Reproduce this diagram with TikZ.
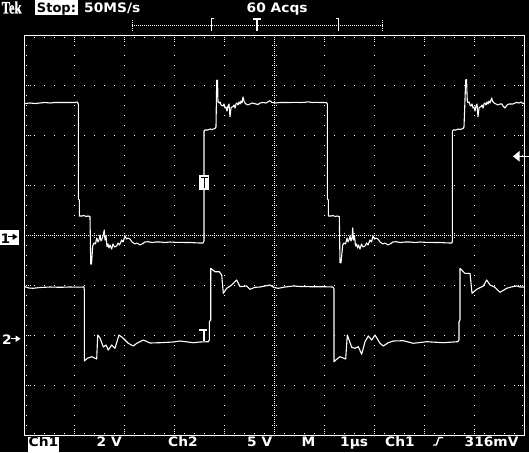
\documentclass[tikz,border=0pt]{standalone}
\usepackage{fontspec}
\newfontfamily\tekf[FakeStretch=1.06]{DejaVu Sans Bold}
\newfontfamily\tekbold{DejaVu Sans Bold}
\newfontfamily\tekserif[FakeStretch=0.72,FakeBold=1.2]{Liberation Serif}
\tikzset{
  trace/.style={white, line width=1.1pt, line join=round},
  scr/.style={white, line width=1.2pt},
  lbl/.style={white, inner sep=0pt, anchor=base west, font=\tekf\fontsize{13}{13}\selectfont},
  lblk/.style={black, inner sep=0pt, anchor=base, font=\tekf\fontsize{13}{13}\selectfont},
  tkmark/.style={white, line width=1.3pt}
}
\newcommand\pxd[2]{\fill[white] ({#1-0.5},{#2-0.5}) rectangle ++(1,1);}
\newcommand\pxs[2]{\fill[white] ({#1-0.42},{#2-0.42}) rectangle ++(0.84,0.84);}
\begin{document}
\begin{tikzpicture}[x=1pt,y=-1pt]
\useasboundingbox (0,0) rectangle (529,452);
\fill[black] (0,0) rectangle (529,452);

% ---- grid dots
\foreach \i in {1,...,9}{\foreach \j in {1,...,39}{\pxd{24.5+50*\i}{35.5+10*\j}}}
\foreach \k in {1,...,7}{\foreach \j in {1,...,49}{\pxd{24.5+10*\j}{35.5+50*\k}}}
% center lines, dense
\foreach \j in {1,...,249}{\pxs{24.5+2*\j}{235.5}}
\foreach \j in {1,...,199}{\pxs{274.5}{35.5+2*\j}}
\foreach \j in {1,...,49}{\pxd{24.5+10*\j}{233.5}\pxd{24.5+10*\j}{237.5}}
\foreach \j in {1,...,39}{\pxd{272.5}{35.5+10*\j}\pxd{276.5}{35.5+10*\j}}
% border ticks
\foreach \j in {1,...,49}{\pxd{24.5+10*\j}{37.5}\pxd{24.5+10*\j}{433.5}}
\foreach \j in {1,...,39}{\pxd{26.5}{35.5+10*\j}\pxd{522.5}{35.5+10*\j}}
\foreach \i in {1,...,9}{\pxd{24.5+50*\i}{39.5}\pxd{24.5+50*\i}{41.5}
  \pxd{24.5+50*\i}{431.5}\pxd{24.5+50*\i}{429.5}}
\foreach \k in {1,...,7}{\pxd{28.5}{35.5+50*\k}\pxd{30.5}{35.5+50*\k}
  \pxd{520.5}{35.5+50*\k}\pxd{518.5}{35.5+50*\k}}
% border
\draw[scr] (24.5,35.5) rectangle (524.5,435.5);

% ---- channel 1 trace
\draw[trace] plot coordinates {(25,103.5)(30,103)(35,103.5)(40,103)(45,102.5)(50,103)(55,102.5)(60,102.5)(65,102.5)(70,102.5)(75,102.5)(77.3,102)(78.3,104)(78.3,199)(79.3,200)(79.3,216)(82,216)(84,215.5)(86,216.5)(88,216)(90,216.5)(90.7,264)(91.5,264)(92.7,246)(94,243)(95.5,244)(96.7,238)(98,242)(99,240)(100,235)(101,241)(102,239)(103,236)(104.3,230)(105,240)(106,236)(107,246.7)(108,244)(109,248)(110,245)(111.7,249)(113,244)(114.5,247)(116.7,246)(118,243)(119.5,245)(121.7,240)(123,242)(125,236)(126.5,239)(128,238)(130,239)(132,242)(135,244)(137,243)(140,245)(142,244)(145,242)(148,241.7)(152,242.5)(156,242)(160,242)(165,242.5)(170,242)(175,242.3)(180,242.3)(185,242.5)(190,242.5)(195,242.8)(200,243)(203,243)(204,241)(204,131)(205,130)(208,130)(210,129)(212,129.5)(215,128.5)(216,127)(216.7,80.5)(217.5,80)(218,101.7)(219,103)(220,102)(221,105)(223,106)(224,104)(225,108)(226,107)(227,111)(228,106)(229,104)(230,116.7)(231,108)(232,107)(233,106.7)(234,105)(235,108)(236,104)(237,103)(238,105)(239,102)(240,104)(241,101)(242,103)(243,97)(244,101)(245,103)(246,104)(248,105)(250,104)(252,103)(254,103.5)(256,104)(258,104.5)(260,103)(263,102.5)(266,103)(270,100.7)(272,102.5)(276,103)(280,102.5)(285,102.5)(290,102.5)(295,102.3)(300,102.5)(305,102.3)(308,101.8)(312,102.5)(316,102.3)(320,102.5)(324,102.5)(326.7,102.7)(327.3,104)(327.3,199)(328.3,200)(328.3,216)(331,216)(333,215.5)(335,216.5)(337,216)(339.3,216.5)(340,262.7)(341,262.7)(342.7,245)(344,243)(345.5,244)(347,238)(348,242)(349,240)(350,236)(351,241)(352,238)(352.7,228)(353.5,240)(354.5,236)(355.5,246)(356.5,244)(357.5,248)(358.5,245)(360,249)(361.5,244)(363,247)(365,246)(366.5,243)(368,245)(370,240)(371.5,242)(373,236)(374.5,239)(376,238)(378,239)(380,242)(383,244)(385,243)(388,245)(390,244)(393,242)(396,241.7)(400,242.5)(405,242)(410,242)(415,242.5)(420,242)(425,242.3)(430,242.3)(435,242.5)(440,242.5)(445,242.8)(450,243)(452,243)(452.3,241)(452.3,131)(453.3,130)(456,130)(458,129)(460,129.5)(463,128.5)(464,127)(465.7,80)(466.5,79.5)(467.3,101)(468,102.7)(469,102)(470,105)(471,106)(472,104)(473,108)(474,107)(475,111)(476,106)(477,104)(478,116.7)(479,108)(480,107)(481,106.7)(482,105)(483,108)(484,104)(485,103)(486,105)(487,102)(488,104)(489,101)(490,103)(491.7,98)(492.5,101)(494,103)(496,104)(498,105)(500,104)(502,104)(503,106)(505,108)(507,105)(509,104)(511,104)(513,104)(515,103)(517,102.5)(519,103)(521,102)(522,103)(524,103.5)};

% ---- channel 2 trace
\draw[trace] plot coordinates {(25,286.7)(29,288)(33,288.3)(40,287.5)(50,287)(60,287.3)(70,287)(78,287.2)(84,287)(84.3,290)(84.3,361)(87.3,358.3)(91.7,356.7)(96.7,359)(97.7,335)(100,338)(103.3,347)(106,345)(108.3,350)(111.7,345)(115,348.3)(119,335)(123.3,338.3)(128.3,343.3)(133.3,346)(136.7,343.3)(143.3,340)(150,343)(160,342.7)(173.3,342)(180,341)(193.3,342.7)(200,342)(208.3,341.7)(209.3,340)(209.3,321.7)(210.7,320)(210.7,268.3)(215,271.7)(219.3,271.7)(221.7,275)(223.3,293.3)(226.7,288.3)(231.7,285)(236.7,280)(240,286.7)(246.7,286)(250,289.3)(255,287.3)(260,287)(265,286)(270,285)(274,287.5)(278.3,288.3)(285,287)(293.3,286)(300,286.5)(310,286.7)(323.3,286.7)(333,287)(334,289)(334,361.7)(337,359)(340,356.7)(345.7,359)(347.3,335)(351.7,347.3)(355,348.3)(358.3,346.7)(361.7,354.3)(365,341.7)(368.3,336)(371.7,340)(375,335)(380,343.3)(383.3,346)(388.3,342.7)(393.3,341)(403.3,340.7)(413.3,343.3)(426.7,341.7)(443.3,342.7)(457.7,341.7)(459,340)(459,321.7)(460,320)(460,268.3)(465,273.3)(470,273.3)(472,293.3)(476.7,289.3)(483.3,286)(486.7,280)(490,285)(495,287.3)(500,292.3)(506.7,288.3)(511,287)(516.7,286)(520,287)(524,287)};

% ---- trigger markers on traces
\fill[white] (199.3,175) rectangle (209.3,189.5);
\draw[black, line width=1.4pt] (200.8,177.5) -- (207.8,177.5);
\draw[black, line width=1.4pt] (204.3,177.5) -- (204.3,187.5);
\draw[tkmark] (199,330) -- (207,330);
\draw[tkmark] (204,330) -- (204,341);

% ---- channel markers at left
\fill[white] (0,229.5) rectangle (19,245);
\node[lblk, anchor=base west] (m1) at (0.5,243) {1};
\draw[black, line width=1.2pt] (8,236.8) -- (14,236.8);
\fill[black] (12.5,233.5) -- (17.5,236.8) -- (12.5,240) -- cycle;
\node[lbl] (m2) at (2,344) {2};
\draw[white, line width=1.2pt] (11,338.7) -- (17,338.7);
\fill[white] (15.5,335.4) -- (20.5,338.7) -- (15.5,342) -- cycle;

% ---- trigger level arrow at right
\fill[white] (513,156.3) -- (519.5,151) -- (519.5,161.6) -- cycle;
\draw[white, line width=1.2pt] (519,156.3) -- (529,156.3);

% ---- top status line
\node[white, inner sep=0pt, anchor=base west, font=\tekserif\bfseries\fontsize{17.5}{17.5}\selectfont] (tek) at (1.5,13.5) {Tek};
\fill[white] (35,0) rectangle (78,15);
\node[black, inner sep=0pt, anchor=base, font=\tekbold\fontsize{13}{13}\selectfont] (stop) at (56.5,12.5) {Stop:};
\node[lbl] (rate) at (84,12.5) {50MS/s};
\node[lbl] (acq) at (246.5,12.5) {60 Acqs};

% record ruler
\foreach \j in {0,...,125}{\pxs{132.5+2*\j}{25.5}}
\foreach \j in {0,...,5}{\pxs{132.5}{20.5+2*\j}\pxs{382.5}{20.5+2*\j}}
\draw[tkmark] (213.5,18.3) -- (211.2,18.3) -- (211.2,31);
\draw[tkmark] (336,18.3) -- (338.3,18.3) -- (338.3,31);
\draw[tkmark] (252.8,19) -- (261,19);
\draw[tkmark] (256.9,19) -- (256.9,31);

% ---- bottom status line
\fill[white] (28,437) rectangle (59,452);
\node[lblk] (c1) at (43.5,446.5) {Ch1};
\node[lbl] (v1) at (96.5,446.5) {2 V};
\node[lbl] (c2) at (168,446.5) {Ch2};
\node[lbl] (v2) at (247,446.5) {5 V};
\node[lbl] (mm) at (301.5,446.5) {M};
\node[lbl] (tb) at (340,446.5) {1µs};
\node[lbl] (c3) at (385,446.5) {Ch1};
\draw[white, line width=1.4pt] (433,445) -- (436.3,445) -- (439,437.6) -- (443,437.6);
\node[lbl] (lv) at (464.5,446.5) {316mV};
\end{tikzpicture}
\end{document}
